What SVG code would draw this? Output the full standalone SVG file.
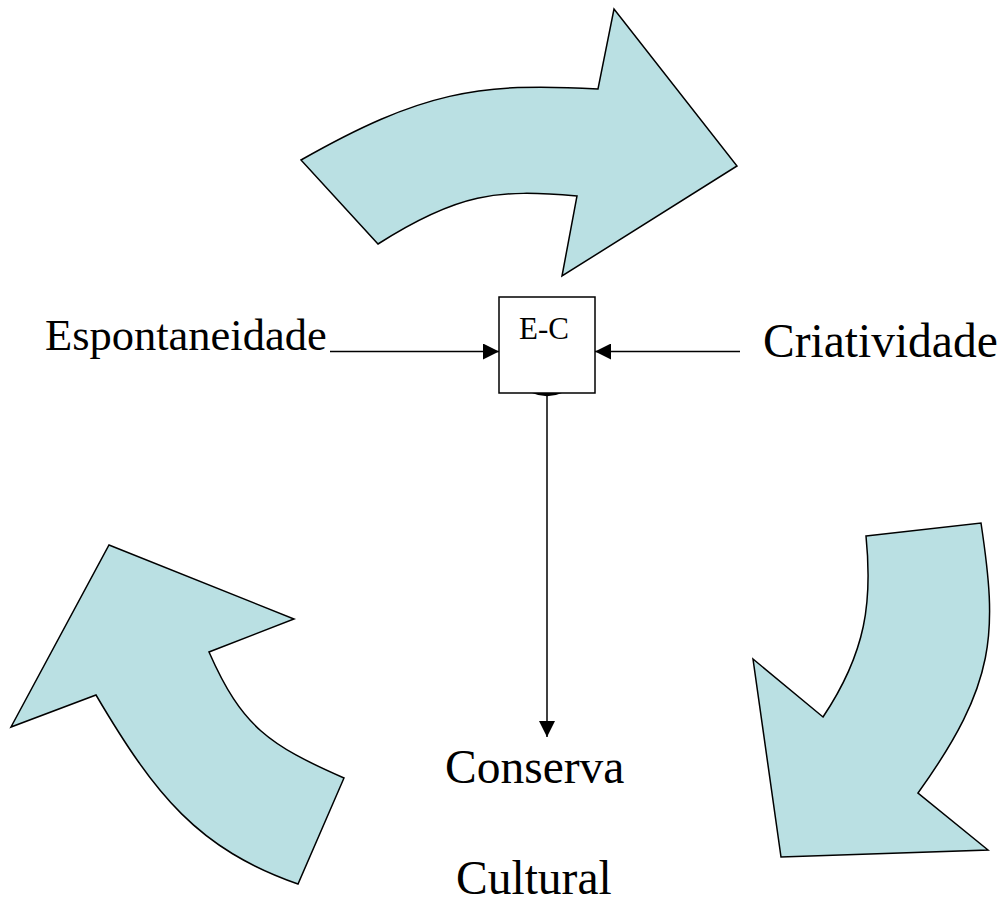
<svg xmlns="http://www.w3.org/2000/svg" width="1003" height="899" viewBox="0 0 1003 899">
<style>
.arrow{fill:#bae0e3;stroke:#000;stroke-width:1.5;stroke-linejoin:miter}
.lbl{font-family:"Liberation Serif","Times New Roman",serif;fill:#000}
.conn{stroke:#000;stroke-width:1.5;fill:none}
</style>
<defs>
<marker id="ah" markerUnits="userSpaceOnUse" markerWidth="17" markerHeight="16" refX="16" refY="8" orient="auto">
<path d="M0,0 L16,8 L0,16 Z" fill="#000"/>
</marker>
</defs>
<rect width="1003" height="899" fill="#fff"/>
<g id="arrow-top">
<path class="arrow" d="M301,160 C421,92 478,82 598,89 L614,9 L737,166 L562,276 L577,196 C497,189 458,193 378,244 Z"/>
</g>
<g id="arrow-right">
<path class="arrow" d="M866,536 L981,523 C997.5,633 997,683 918,793 L988,850 L781,857 L753,659 L823,717 C866.5,652 872.5,601 866,536 Z"/>
</g>
<g id="arrow-left">
<path class="arrow" d="M109,545 L294,619 L209,652 C242,727 269,745 344,778 L298,884 C198,849 155,795 96,695 L11,727 Z"/>
</g>
<g id="node-ec">
<rect x="499" y="297" width="96" height="96" fill="#fff" stroke="#000" stroke-width="1.5"/>
<text class="lbl" x="519" y="339" font-size="31">E-C</text>
</g>
<g id="label-espontaneidade">
<text class="lbl" x="45" y="350" font-size="44.5">Espontaneidade</text>
</g>
<g id="label-criatividade">
<text class="lbl" x="763" y="357" font-size="47.5">Criatividade</text>
</g>
<g id="label-conserva">
<text class="lbl" x="445" y="783" font-size="47.5">Conserva</text>
<text class="lbl" x="456" y="894" font-size="47.5">Cultural</text>
</g>
<g id="connectors">
<line class="conn" x1="330" y1="351.5" x2="499" y2="351.5" marker-end="url(#ah)"/>
<line class="conn" x1="740" y1="351.5" x2="595" y2="351.5" marker-end="url(#ah)"/>
<path d="M532,393 Q547,399.5 562,393 Z" fill="#000"/>
<line class="conn" x1="547" y1="393" x2="547" y2="737" marker-end="url(#ah)"/>
</g>
</svg>
